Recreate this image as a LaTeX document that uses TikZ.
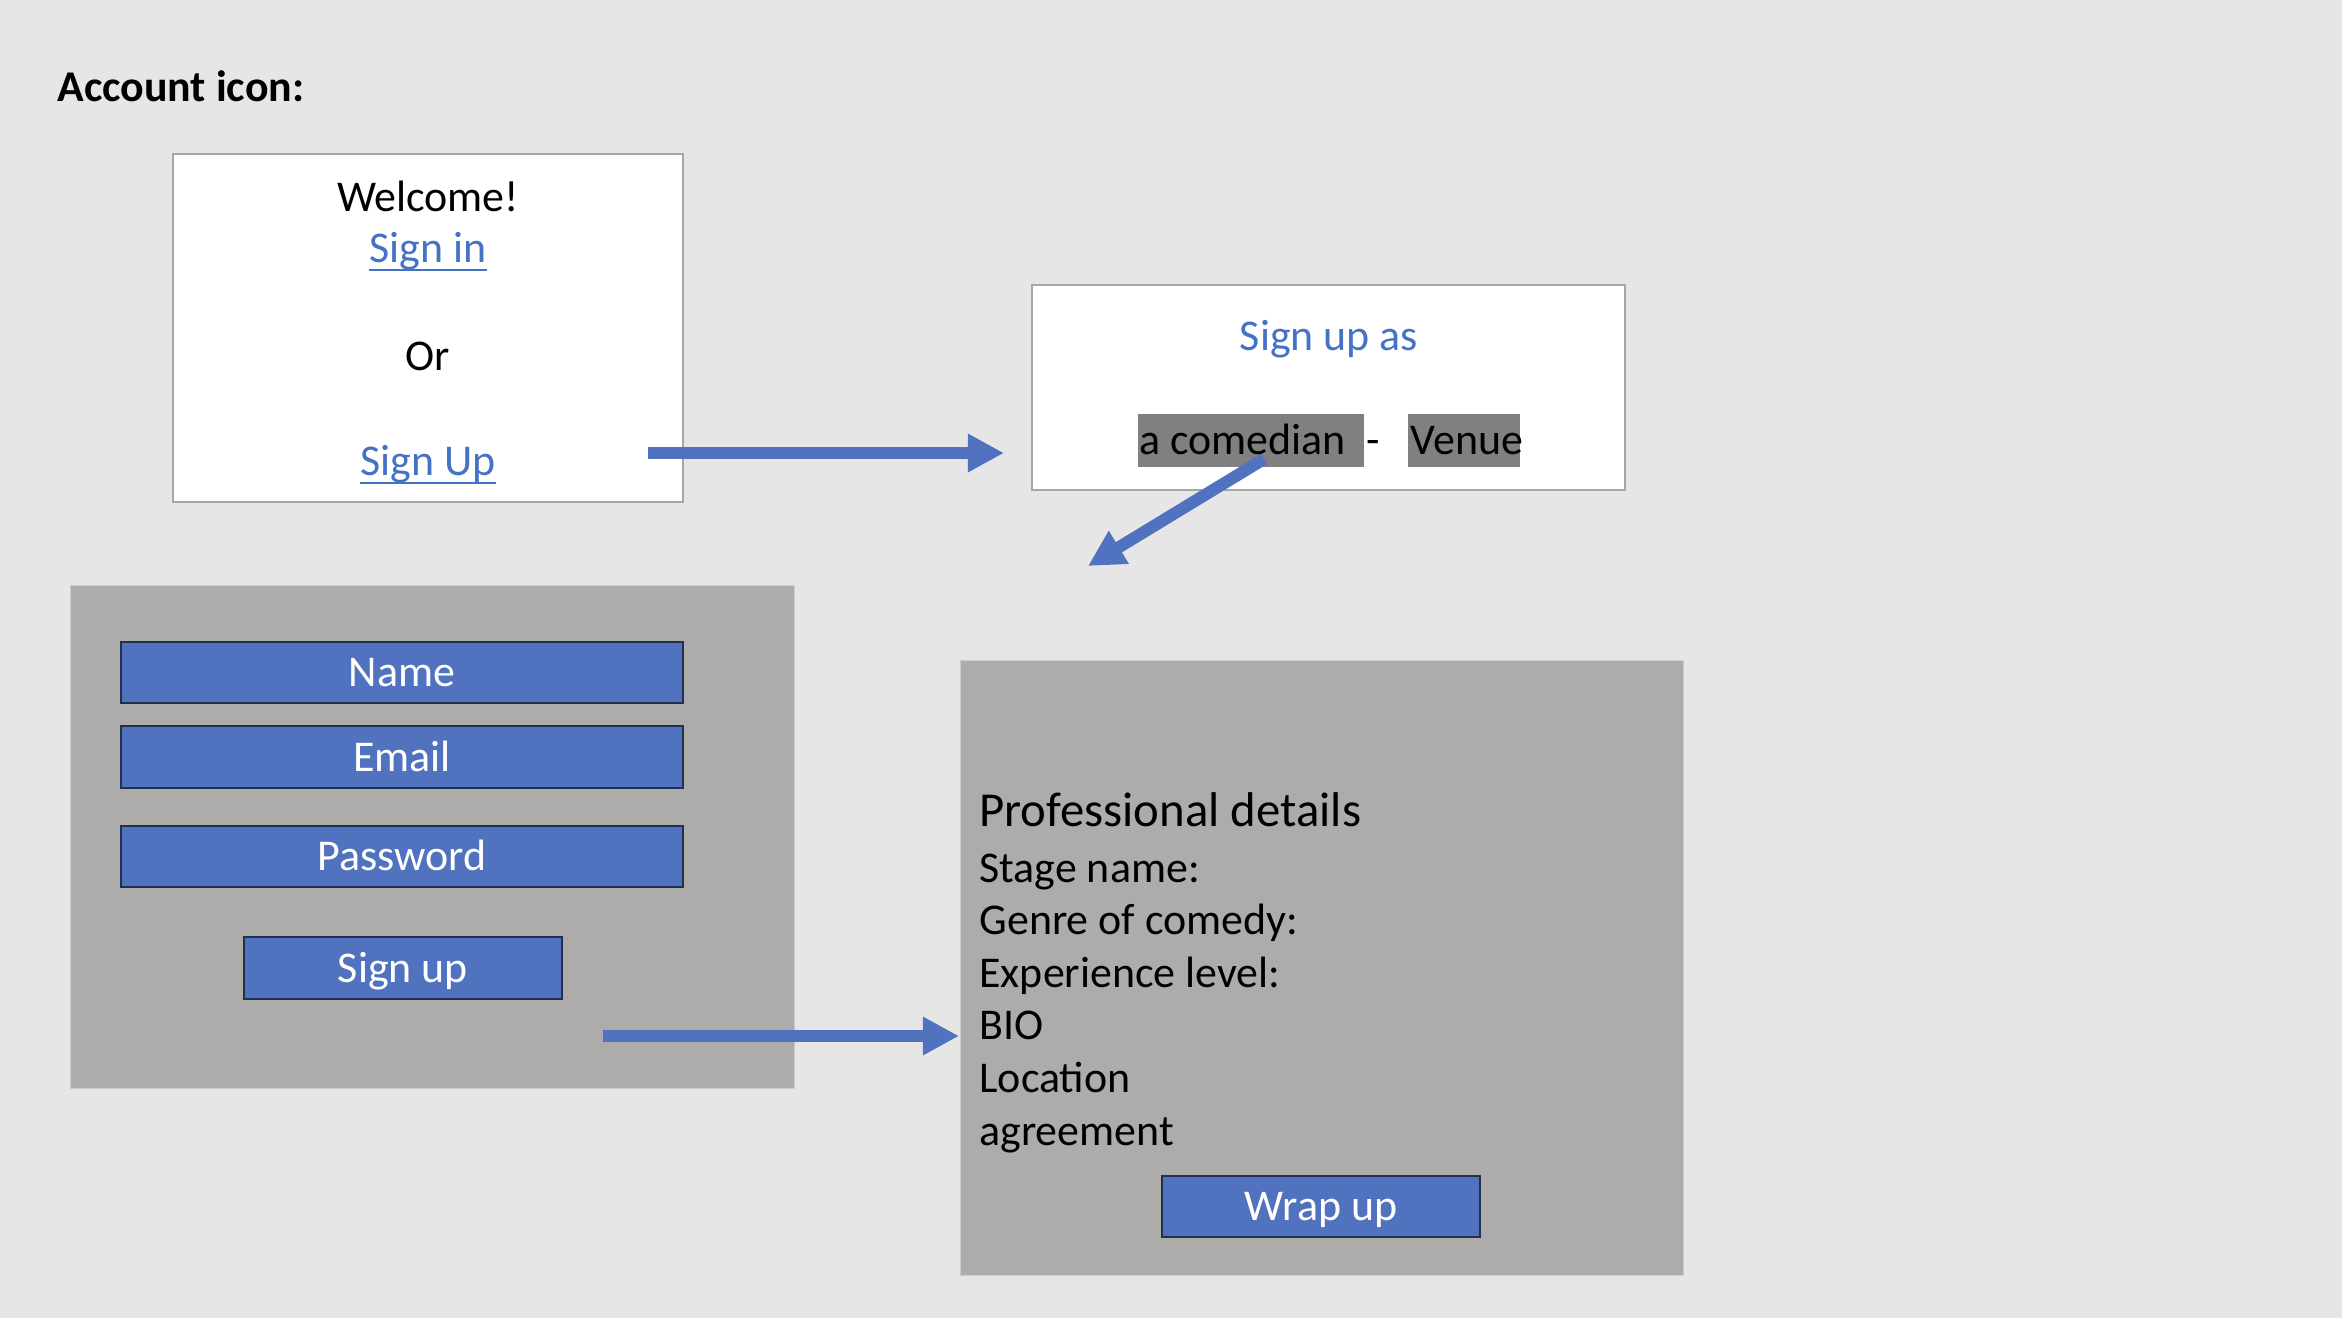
\documentclass[tikz,border=0pt]{standalone}
\usepackage{fontspec}
\setmainfont{Carlito}
\usetikzlibrary{arrows.meta}
\usetikzlibrary{fit}
\definecolor{slidebg}{HTML}{E7E6E6}
\definecolor{panelgray}{HTML}{AEACAA}
\definecolor{taggray}{HTML}{808080}
\definecolor{linkblue}{HTML}{4472C4}
\definecolor{fieldblue}{HTML}{5172BE}
\definecolor{fieldedge}{HTML}{1F3050}
\newcommand{\slidefont}{\fontsize{18pt}{21.6pt}\selectfont}
\newcommand{\linkword}[1]{\setbox0\hbox{#1}\rlap{\rule[-3.7pt]{\wd0}{0.8pt}}\box0}
\tikzset{lefttext/.style={inner sep=0pt, anchor=base west}}
\tikzset{midtext/.style={inner sep=0pt, anchor=base}}
\tikzset{card/.style={draw=black!35, fill=white, line width=0.8pt, inner sep=0pt}}
\tikzset{panel/.style={draw=black!20, fill=panelgray, line width=0.4pt, inner sep=0pt}}
\tikzset{tag/.style={fill=taggray, inner sep=0pt}}
\tikzset{fieldtext/.style={text=white, inner sep=0pt, text height=11.6pt, text depth=0pt}}
\tikzset{field/.style={draw=fieldedge, fill=fieldblue, line width=1.1pt,
    inner sep=0pt, label={[fieldtext]center:#1}}}
\tikzset{flow/.style={draw=fieldblue, line width=4.9pt,
    -{Triangle[width=14.8pt,length=14.8pt]}}}

\begin{document}
\begin{tikzpicture}[x=0.4099pt, y=-0.4099pt, font=\slidefont]
	\fill[slidebg] (0,0) rectangle (2342,1318);
	\useasboundingbox (0,0) rectangle (2342,1318);
	\node[lefttext, font=\slidefont\bfseries] (title) at (57,101) {Account icon:};

	\node[card, fit={(173,154) (683,502)}] (welcome) {};
	\node[midtext] (hello) at (428,211) {Welcome!};
	\node[midtext, text=linkblue] (signin) at (428,262) {\linkword{Sign in}};
	\node[midtext] (or) at (428,370) {Or};
	\node[midtext, text=linkblue] (signuplink) at (428,475) {\linkword{Sign Up}};

	\node[card, fit={(1032,285) (1625,490)}] (role) {};
	\node[midtext, text=linkblue] (roletitle) at (1329,350) {Sign up as};
	\node[tag, fit={(1138,414) (1364,467)}] (comedianbox) {};
	\node[tag, fit={(1408,414) (1520,467)}] (venuebox) {};
	\node[lefttext] (comedian) at (1139,454) {a comedian};
	\node[lefttext] (dash) at (1366,454) {-};
	\node[lefttext] (venue) at (1410,454) {Venue};

	\node[panel, fit={(70,585) (794,1088)}] (form) {};
	\node[field=Name, fit={(121,642) (683,703)}] (name) {};
	\node[field=Email, fit={(121,726) (683,788)}] (email) {};
	\node[field=Password, fit={(121,826) (683,887)}] (password) {};
	\node[field=Sign up, fit={(244,937) (562,999)}] (signupbtn) {};

	\node[panel, fit={(960,660) (1683,1275)}] (details) {};
	\node[lefttext, font=\fontsize{20pt}{24pt}\selectfont] (dethead) at (979,826)
	{Professional details};
	\foreach \txt [count=\i] in {Stage name:, Genre of comedy:, Experience level:,
		BIO, Location, agreement}
	\node[lefttext] (det\i) at (979,{882+52.6*(\i-1)}) {\txt};
	\node[field=Wrap up, fit={(1162,1176) (1480,1237)}] (wrapup) {};

	% arrows
	\coordinate (fromlink) at (648,453);
	\coordinate (torole) at (1004,453);
	\coordinate (fromrole) at (1264,459);
	\coordinate (toform) at (1088,566);
	\coordinate (fromform) at (603,1036);
	\coordinate (todetails) at (959,1036);
	\draw[flow] (fromlink) -- (torole);
	\draw[flow] (fromrole) -- (toform);
	\draw[flow] (fromform) -- (todetails);
\end{tikzpicture}
\end{document}
